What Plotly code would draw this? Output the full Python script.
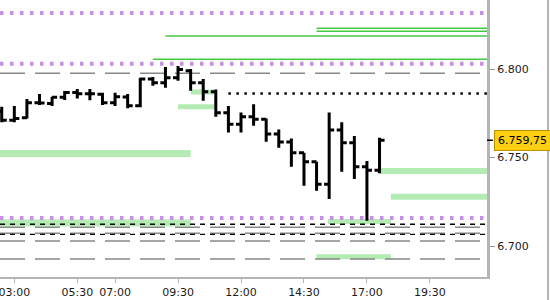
import plotly.graph_objects as go

DAY = "2024-01-02 "

# ---- OHLC bars (30 min) ----
times = ["02:30", "03:00", "03:30", "04:00", "04:30", "05:00", "05:30", "06:00",
         "06:30", "07:00", "07:30", "08:00", "08:30", "09:00", "09:30", "10:00",
         "10:30", "11:00", "11:30", "12:00", "12:30", "13:00", "13:30", "14:00",
         "14:30", "15:00", "15:30", "16:00", "16:30", "17:00", "17:30"]
opens = [6.7760, 6.7710, 6.7725, 6.7810, 6.7805, 6.7840, 6.7868, 6.7860,
         6.7857, 6.7810, 6.7842, 6.7793, 6.7944, 6.7923, 6.7951, 6.7990,
         6.7923, 6.7872, 6.7753, 6.7688, 6.7731, 6.7716, 6.7633, 6.7588,
         6.7527, 6.7476, 6.7349, 6.7655, 6.7584, 6.7448, 6.7428]
highs = [6.7787, 6.7791, 6.7831, 6.7859, 6.7844, 6.7876, 6.7887, 6.7887,
         6.7866, 6.7866, 6.7859, 6.7951, 6.7955, 6.8011, 6.8017, 6.8000,
         6.7944, 6.7885, 6.7791, 6.7755, 6.7801, 6.7721, 6.7659, 6.7608,
         6.7527, 6.7476, 6.7755, 6.7699, 6.7621, 6.7480, 6.7612]
lows = [6.7699, 6.7699, 6.7721, 6.7797, 6.7791, 6.7825, 6.7834, 6.7823,
        6.7797, 6.7791, 6.7778, 6.7784, 6.7906, 6.7894, 6.7934, 6.7877,
        6.7821, 6.7731, 6.7642, 6.7642, 6.7680, 6.7589, 6.7555, 6.7448,
        6.7341, 6.7312, 6.7266, 6.7420, 6.7379, 6.7143, 6.7411]
closes = [6.7710, 6.7721, 6.7810, 6.7808, 6.7840, 6.7868, 6.7860, 6.7860,
          6.7810, 6.7844, 6.7793, 6.7944, 6.7923, 6.7951, 6.7998, 6.7923,
          6.7872, 6.7753, 6.7688, 6.7731, 6.7716, 6.7633, 6.7588, 6.7527,
          6.7476, 6.7349, 6.7655, 6.7584, 6.7448, 6.7428, 6.75975]

last_price = 6.75975
last_label = "6.759,75"

# ---- axis ----
x_start = "02:25:54"
x_end = "21:46"
y_min, y_max = 6.6825, 6.8390
x_tick_times = ["03:00", "05:30", "07:00", "09:30", "12:00", "14:30", "17:00", "19:30"]
y_tick_vals = [6.700, 6.750, 6.800]
y_tick_text = ["6.700", "6.750", "6.800"]

# ---- levels ----
purple_levels = [6.8316, 6.8030, 6.7159]
green_line_levels = [6.8230, 6.8213, 6.8186, 6.8055]
green_line_starts = ["15:00", "15:00", "09:00", "08:30"]
gray_dash_levels = [6.7976, 6.7106, 6.7072, 6.7028, 6.6927]
black_dash_levels = [6.7123, 6.7066]
dotted_level = 6.7862
dotted_start = "11:30"
band_levels = [6.7523, 6.7870, 6.7787, 6.7424, 6.7279, 6.7130, 6.7139, 6.6940]
band_starts = [x_start, "10:00", "09:30", "17:31", "17:57", x_start, "15:27", "15:00"]
band_ends = ["10:00", "10:57", "10:57", x_end, x_end, "10:00", "17:57", "17:57"]
band_widths = [7, 5, 5, 6, 6, 7, 5, 5]


def t(s):
    return DAY + s


fig = go.Figure()
fig.add_trace(go.Ohlc(
    x=[t(s) for s in times], open=opens, high=highs, low=lows, close=closes,
    increasing=dict(line=dict(color="black", width=3)),
    decreasing=dict(line=dict(color="black", width=3)),
    tickwidth=0.4, hoverinfo="skip", showlegend=False,
))

shapes = []
for lv, s, e, w in zip(band_levels, band_starts, band_ends, band_widths):
    shapes.append(dict(type="line", xref="x", yref="y", x0=t(s), x1=t(e), y0=lv, y1=lv,
                       line=dict(color="#b3ebb3", width=w), layer="below"))
for lv in gray_dash_levels:
    shapes.append(dict(type="line", xref="x", yref="y", x0=t(x_start), x1=t(x_end), y0=lv, y1=lv,
                       line=dict(color="#888888", width=1.5, dash="25px,10px"), layer="below"))
for lv in black_dash_levels:
    shapes.append(dict(type="line", xref="x", yref="y", x0=t(x_start), x1=t(x_end), y0=lv, y1=lv,
                       line=dict(color="black", width=1.3, dash="5px,5px"), layer="below"))
for lv, s in zip(green_line_levels, green_line_starts):
    shapes.append(dict(type="line", xref="x", yref="y", x0=t(s), x1=t(x_end), y0=lv, y1=lv,
                       line=dict(color="#44c844", width=1.5), layer="below"))
shapes.append(dict(type="line", xref="x", yref="y", x0=t(dotted_start), x1=t(x_end),
                   y0=dotted_level, y1=dotted_level,
                   line=dict(color="black", width=2.5, dash="2.5px,5.5px"), layer="below"))
for lv in purple_levels:
    shapes.append(dict(type="line", xref="x", yref="y", x0=t(x_start), x1=t(x_end), y0=lv, y1=lv,
                       line=dict(color="#c88fe6", width=4, dash="3.5px,6.5px"), layer="below"))
# current-price tick on axis
shapes.append(dict(type="line", xref="paper", yref="y", x0=1.0, x1=1.012,
                   y0=last_price, y1=last_price, line=dict(color="black", width=1.5)))
# right window border
shapes.append(dict(type="line", xref="paper", yref="paper", x0=1.1253, x1=1.1253,
                   y0=-0.1, y1=1.0, line=dict(color="#b4b4b4", width=2)))

fig.update_layout(
    width=550, height=300,
    margin=dict(l=0, r=63, t=0, b=23),
    paper_bgcolor="white", plot_bgcolor="white",
    font=dict(family="DejaVu Sans", size=11, color="#1a1a1a"),
    shapes=shapes,
    showlegend=False,
    xaxis=dict(type="date", range=[t(x_start), t(x_end)],
               tickvals=[t(s) for s in x_tick_times], ticktext=x_tick_times,
               ticks="outside", ticklen=4, tickcolor="#b4b4b4",
               ticklabeloverflow="allow", automargin=False,
               showline=True, linecolor="#b4b4b4", linewidth=2,
               showgrid=False, zeroline=False, rangeslider=dict(visible=False),
               fixedrange=True),
    yaxis=dict(side="right", range=[y_min, y_max],
               tickvals=y_tick_vals, ticktext=y_tick_text,
               ticks="outside", ticklen=5, tickcolor="#999999", automargin=False,
               showline=True, linecolor="#b4b4b4", linewidth=3,
               showgrid=False, zeroline=False, fixedrange=True),
    annotations=[dict(xref="paper", yref="y", x=1.0144, y=last_price,
                      xanchor="left", yanchor="middle", text=last_label,
                      showarrow=False, bgcolor="#fdcf12", bordercolor="#b89000",
                      borderwidth=1, borderpad=3,
                      font=dict(family="DejaVu Sans", size=11, color="black"))],
)

fig.write_html("out.html", config={"displayModeBar": False})
